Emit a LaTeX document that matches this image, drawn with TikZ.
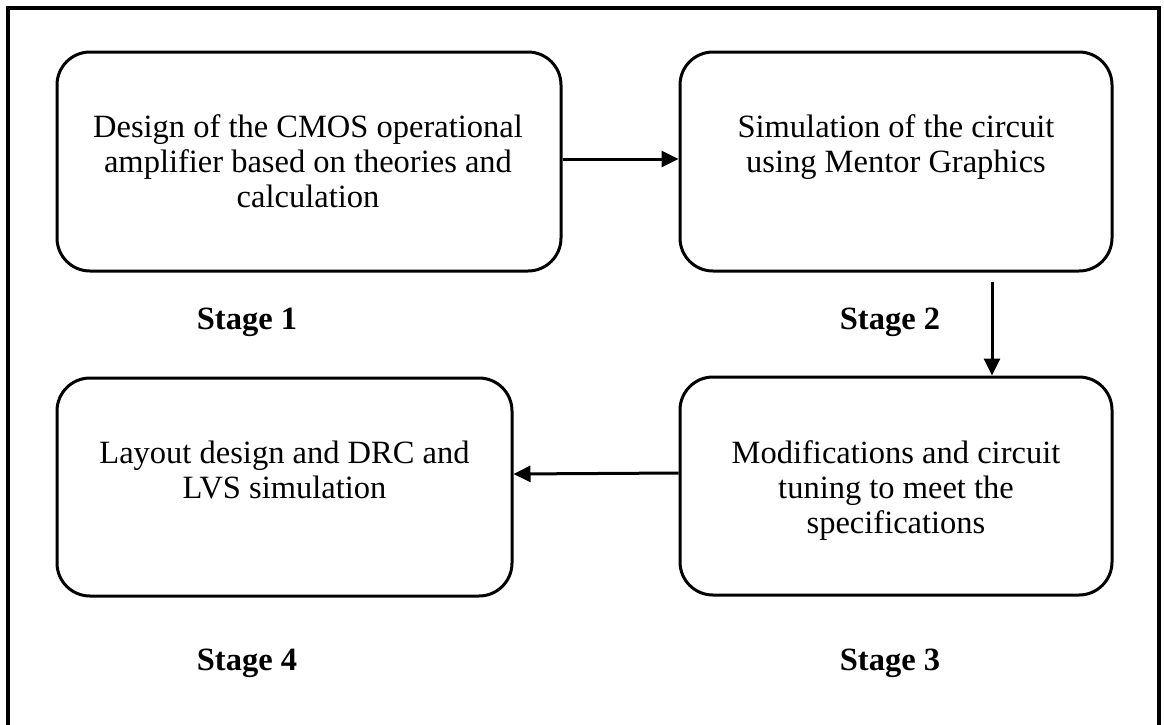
\documentclass[tikz,border=0pt]{standalone}
\usepackage{fontspec}
\setmainfont{Liberation Serif}
\usetikzlibrary{arrows.meta,calc}
\begin{document}
\begin{tikzpicture}[x=1pt,y=-1pt,
  box/.style={draw,line width=3pt,rounded corners=33pt,inner sep=0pt},
  txt/.style={align=center,font=\fontsize{32.5}{35}\selectfont,inner sep=0pt,anchor=north},
  stage/.style={font=\fontsize{32.5}{35}\selectfont\bfseries,inner sep=0pt,anchor=base},
  arr/.style={line width=3pt,-{Triangle[length=17pt,width=16pt]}}]
\useasboundingbox (0,0) rectangle (1164,724);
\fill[white] (0,0) rectangle (1164,724);
\draw[line width=3.3pt] (8,740) -- (8,8) -- (1159,8) -- (1159,740);
% boxes
\node[box,minimum width=504pt,minimum height=219pt] (b1) at (309,161.5) {};
\node[box,minimum width=432pt,minimum height=219pt] (b2) at (896,161.5) {};
\node[box,minimum width=432pt,minimum height=218pt] (b3) at (896,486) {};
\node[box,minimum width=455pt,minimum height=218pt] (b4) at (284.5,487) {};
% texts
\node[txt] (t1) at (308,114.5) {Design of the CMOS operational\\amplifier based on theories and\\calculation};
\node[txt] (t2) at (896,114.5) {Simulation of the circuit\\using Mentor Graphics};
\node[txt] (t3) at (896,440.5) {Modifications and circuit\\tuning to meet the\\specifications};
\node[txt] (t4) at (284.5,440.5) {Layout design and DRC and\\LVS simulation};
% stage labels
\node[stage] (s1) at (247,329) {Stage 1};
\node[stage] (s2) at (890,329) {Stage 2};
\node[stage] (s3) at (890,670) {Stage 3};
\node[stage] (s4) at (247,670) {Stage 4};
% arrows
\draw[arr] ([yshift=2.5pt]b1.east) -- ([yshift=2.5pt]b2.west);
\coordinate (a2) at ($(b2.south)+(96,9)$);
\draw[arr] (a2) -- (a2 |- b3.north);
\draw[arr] ([yshift=13pt]b3.west) -- ([yshift=13pt]b4.east);
\end{tikzpicture}
\end{document}
